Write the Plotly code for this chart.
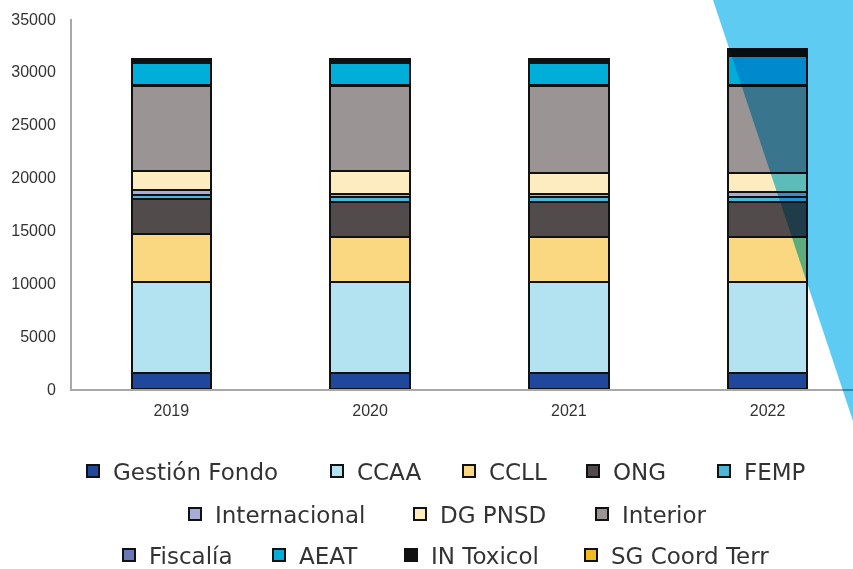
import plotly.graph_objects as go

years = ["2019", "2020", "2021", "2022"]

gestion_fondo = [1500, 1550, 1500, 1550]
ccaa = [8600, 8550, 8600, 8600]
ccll = [4550, 4250, 4250, 4260]
ong = [3300, 3310, 3310, 3250]
femp = [380, 520, 520, 470]
internacional = [450, 300, 300, 530]
dg_pnsd = [1850, 2140, 1920, 1740]
interior = [8050, 8060, 8280, 8280]
fiscalia = [100, 100, 100, 100]
aeat = [2030, 2030, 2030, 2720]
in_toxicol = [380, 380, 380, 650]
sg_coord_terr = [0, 0, 0, 0]

series_names = ["Gestión Fondo", "CCAA", "CCLL", "ONG", "FEMP",
                "Internacional", "DG PNSD", "Interior",
                "Fiscalía", "AEAT", "IN Toxicol", "SG Coord Terr"]
series_values = [gestion_fondo, ccaa, ccll, ong, femp,
                 internacional, dg_pnsd, interior,
                 fiscalia, aeat, in_toxicol, sg_coord_terr]
series_colors = ["#1f479e", "#b3e2f0", "#fad882", "#524b4b", "#4ab8d8",
                 "#a9acd6", "#fcecc0", "#9a9494",
                 "#6a78b8", "#00aed9", "#111111", "#f2bb1d"]

# legend layout (pixel positions of each legend symbol centre, row y)
legend_sym_x = [93, 337, 469, 593, 724, 195, 420, 602, 129, 279, 411, 591]
legend_row_y = [471] * 5 + [514] * 3 + [555] * 4

W, H = 853, 569
L_PX, TOP_PX, BASE_PX = 72, 19, 389
PLOT_W = W - L_PX

def px_x(p):
    return (p - L_PX) / PLOT_W

def px_y(p):
    return (BASE_PX - p) / (BASE_PX - TOP_PX)

fig = go.Figure()
legend_layouts = {}
for i, (name, vals, color) in enumerate(zip(series_names, series_values, series_colors)):
    lid = "legend" if i == 0 else f"legend{i+1}"
    fig.add_trace(go.Bar(
        x=years, y=vals, name=name, legend=lid, width=0.4, showlegend=True,
        marker=dict(color=color, line=dict(color="#111111", width=2)),
    ))
    legend_layouts[lid] = dict(
        orientation="h", xanchor="left", yanchor="middle",
        x=px_x(legend_sym_x[i] - 20), y=px_y(legend_row_y[i]),
        font=dict(family="DejaVu Sans", size=23, color="#333333"),
        bgcolor="rgba(0,0,0,0)", itemwidth=30, borderwidth=0,
    )

fig.update_layout(
    width=W, height=H, showlegend=True,
    margin=dict(l=L_PX, r=0, t=TOP_PX, b=H - BASE_PX, autoexpand=False),
    paper_bgcolor="white", plot_bgcolor="rgba(0,0,0,0)",
    barmode="stack",
    font=dict(family="Liberation Sans", size=16, color="#333333"),
    xaxis=dict(
        type="category", range=[-0.5, 3.43], showline=True,
        linecolor="#a8a8a8", linewidth=2, ticks="", showgrid=False,
        ticklabelstandoff=6, tickfont=dict(size=16, color="#333333"),
    ),
    yaxis=dict(
        range=[0, 35000], dtick=5000, tickformat="d", showline=True,
        linecolor="#a8a8a8", linewidth=2, showgrid=False, zeroline=False,
        ticks="", ticklabelstandoff=11, tickfont=dict(size=16, color="#333333"),
    ),
    shapes=[dict(
        type="path", xref="paper", yref="paper", layer="above",
        path=f"M {px_x(713)} {px_y(0)} L 1.0 {px_y(0)} L 1.0 {px_y(421)} Z",
        fillcolor="#5ecbf3", line=dict(width=0),
    )],
    **legend_layouts,
)

post = """
document.body.style.margin = '0';
document.body.style.overflow = 'hidden';
var ps = document.querySelectorAll('.layer-above .shapelayer path');
ps.forEach(function(p){ p.style.mixBlendMode = 'multiply'; });
"""
fig.write_html("out.html", post_script=post, config={"displayModeBar": False})
